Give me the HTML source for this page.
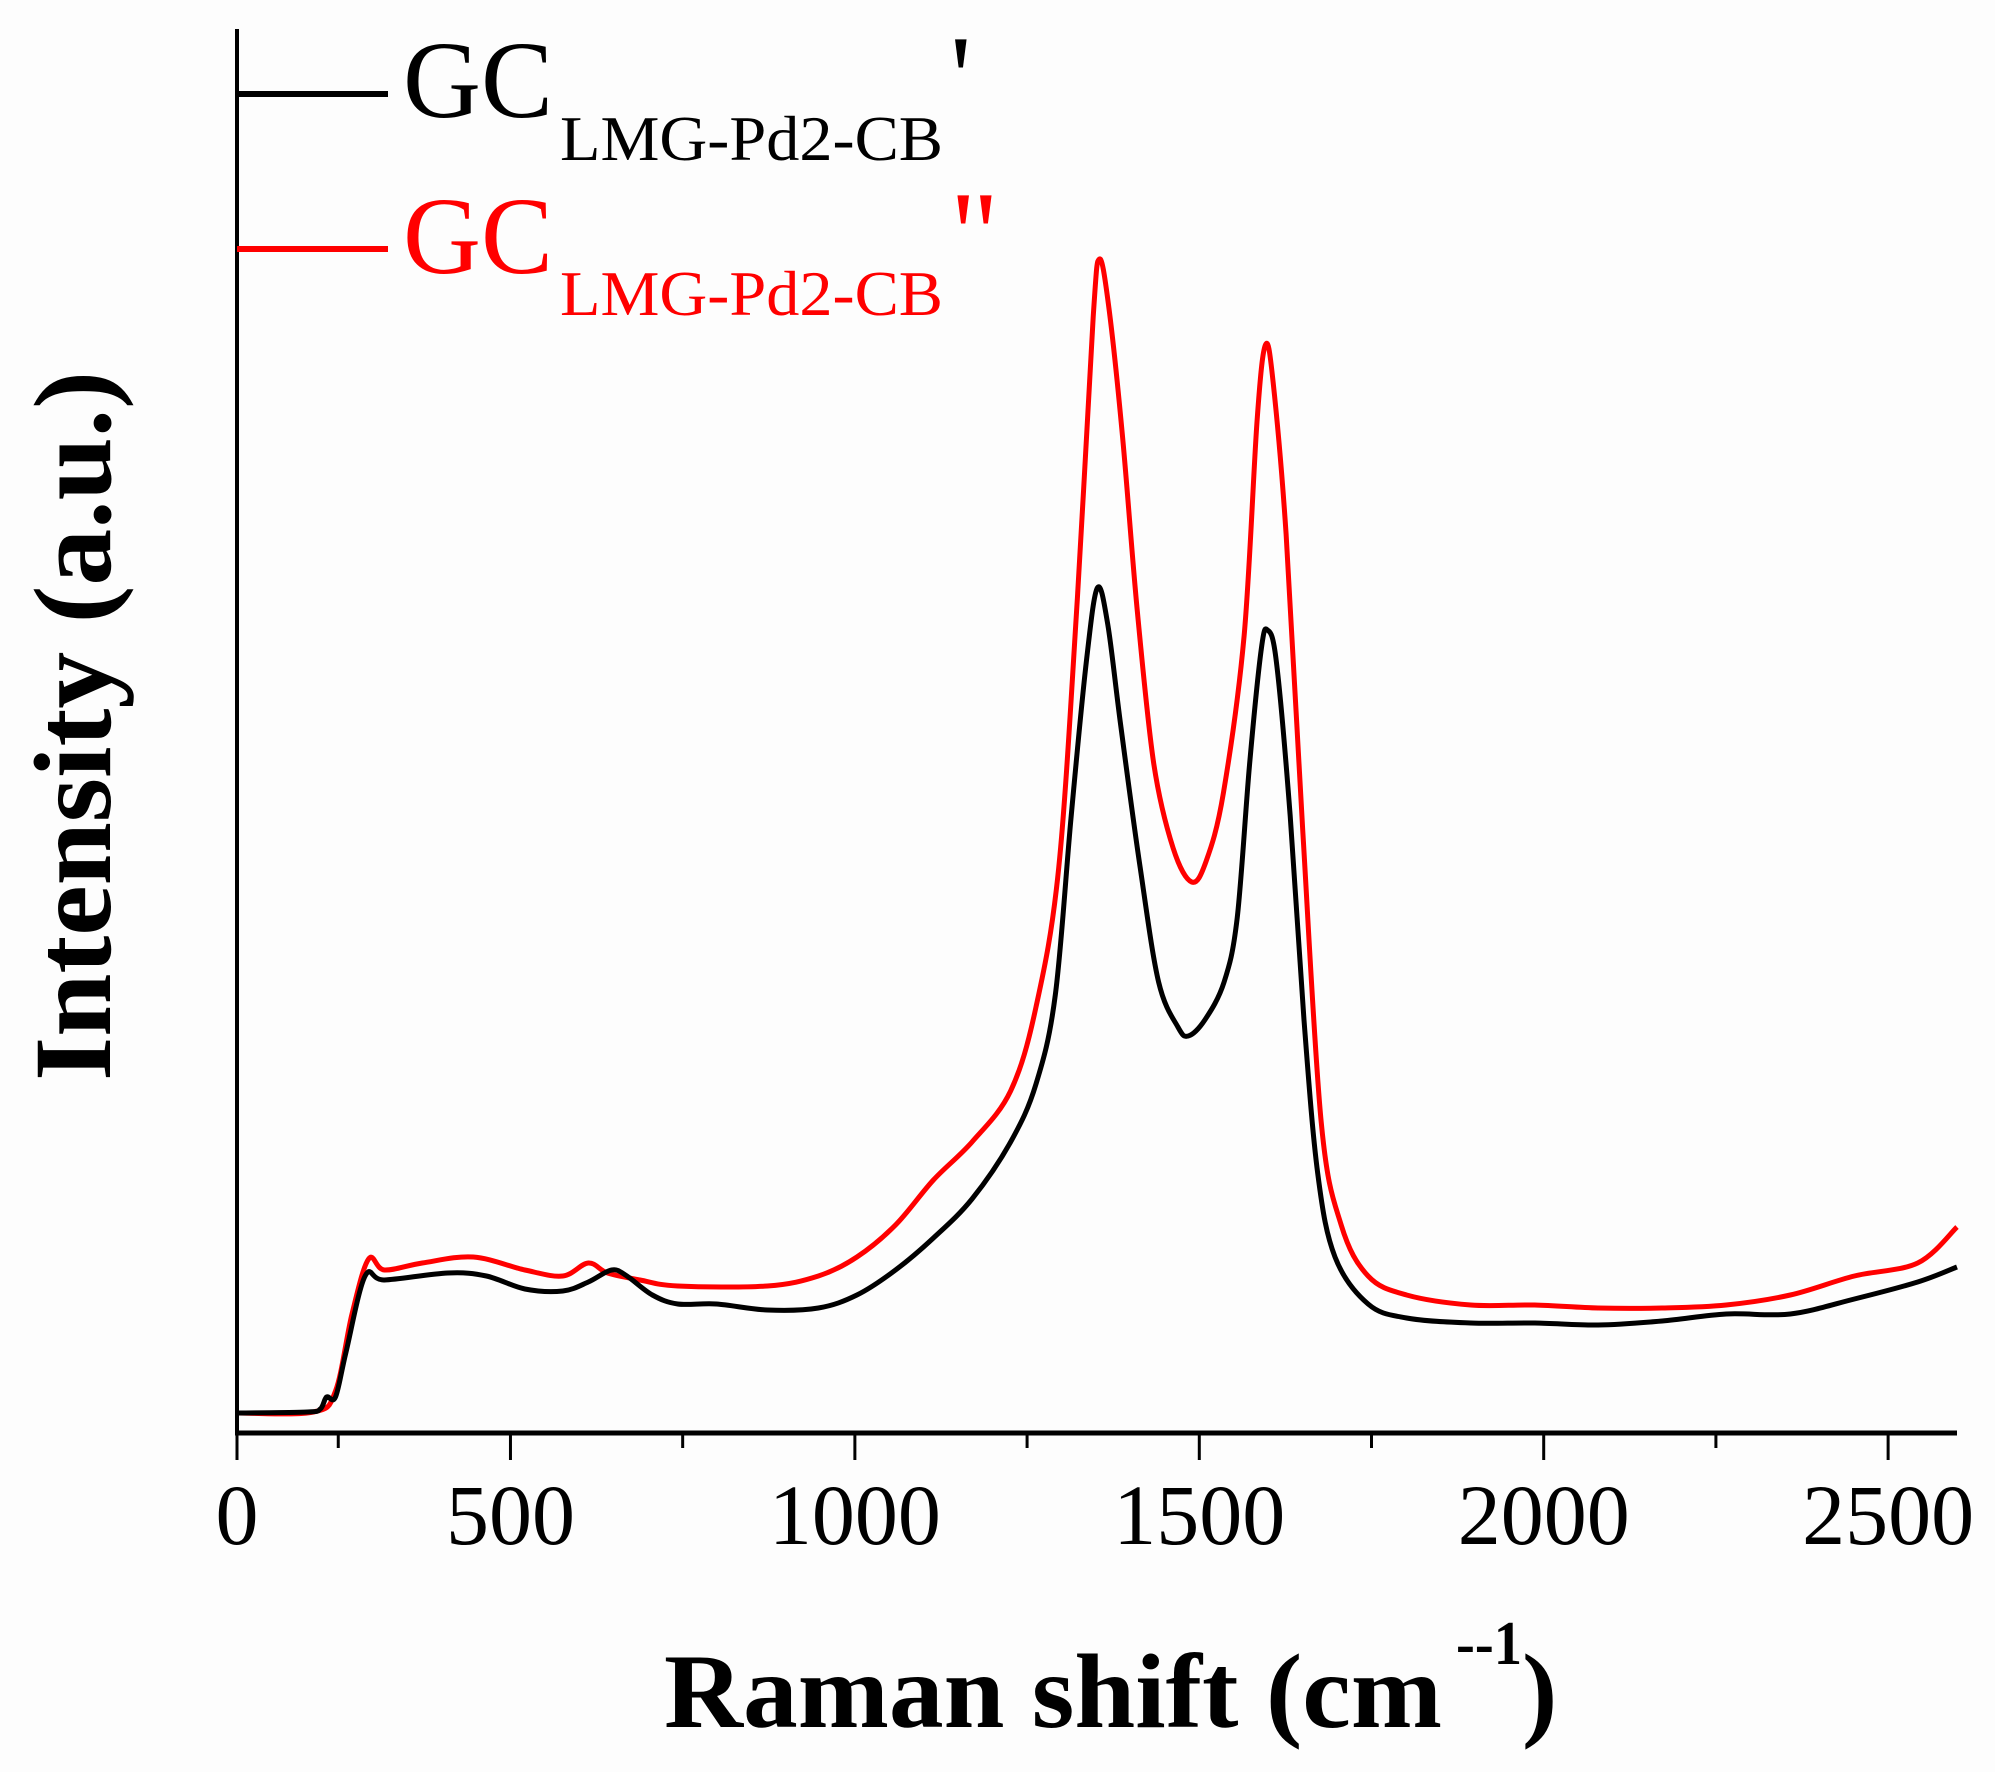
<!DOCTYPE html>
<html><head><meta charset="utf-8"><style>
html,body{margin:0;padding:0;background:#fff;}
svg{display:block;}
text{font-family:"Liberation Serif",serif;}
</style></head><body>
<svg id="chart" width="1995" height="1772" viewBox="0 0 1995 1772" xmlns="http://www.w3.org/2000/svg">
<rect x="0" y="0" width="1995" height="1772" fill="#fdfdfd"/>
<g id="series"></g>
<g id="axes"></g>
<g>
  <g>
    <line x1="237" y1="94" x2="388" y2="94" stroke="#000" stroke-width="6"/>
    <text x="403" y="117" font-size="110" fill="#000" textLength="150" lengthAdjust="spacingAndGlyphs">GC</text>
    <text x="560" y="160" font-size="64" fill="#000" textLength="383" lengthAdjust="spacingAndGlyphs">LMG-Pd2-CB</text>
    <text x="950" y="118" font-size="120" fill="#000">'</text>
  </g>
  <g>
    <line x1="237" y1="249" x2="388" y2="249" stroke="#f00" stroke-width="6"/>
    <text x="403" y="273" font-size="110" fill="#f00" textLength="150" lengthAdjust="spacingAndGlyphs">GC</text>
    <text x="560" y="315" font-size="64" fill="#f00" textLength="383" lengthAdjust="spacingAndGlyphs">LMG-Pd2-CB</text>
    <text x="950" y="274" font-size="120" fill="#f00">"</text>
  </g>
</g>
<text transform="translate(110,726) rotate(-90)" text-anchor="middle" font-size="110" font-weight="bold" textLength="710" lengthAdjust="spacingAndGlyphs">Intensity (a.u.)</text>
<g>
  <text x="664" y="1727" font-size="106" font-weight="bold" textLength="778" lengthAdjust="spacingAndGlyphs">Raman shift (cm</text>
  <text x="1456" y="1664" font-size="62" font-weight="bold" textLength="66" lengthAdjust="spacingAndGlyphs">--1</text>
  <text x="1522" y="1727" font-size="106" font-weight="bold">)</text>
</g>
</svg>
<script>
const categoriesX = [103,205,224,233,246,261,289,317,409,465,521,576,613,647,669,706,743,799,873,947,1003,1059,1114,1170,1226,1263,1291,1314,1336,1352,1367,1386,1414,1441,1469,1484,1508,1536,1555,1573,1590,1599,1612,1632,1652,1672,1697,1745,1801,1894,1987,2079,2172,2265,2358,2451,2543,2600];
const seriesBlack = [20,21,24,36,36,80,157,153,160,157,144,142,151,163,157,138,129,129,123,125,138,163,195,234,291,349,438,617,771,845,809,707,566,451,406,397,413,451,515,669,784,803,771,617,413,259,176,129,115,110,110,108,112,119,119,134,151,166];
const categoriesXRed = [103,214,246,270,294,317,372,446,521,576,613,641,688,743,873,947,1003,1059,1114,1170,1226,1263,1296,1323,1346,1355,1368,1388,1410,1434,1462,1489,1510,1535,1565,1584,1596,1607,1626,1650,1677,1706,1745,1801,1894,1987,2079,2172,2265,2358,2451,2543,2600];
const seriesRed = [20,21,42,119,174,163,170,176,163,157,170,160,153,147,147,157,176,208,253,291,342,426,566,835,1116,1174,1129,1001,822,669,585,551,572,640,797,1014,1088,1052,899,605,311,208,157,138,128,128,125,125,128,138,157,170,206];
const tickValues = [250,500,750,1000,1250,1500,1750,2000,2250,2500];
const tickLabels = ["0","500","1000","1500","2000","2500"];
const tickLabelValues = [103,500,1000,1500,2000,2500];

const NS = "http://www.w3.org/2000/svg";
const X0 = 237, X1 = 1957, XMIN = 103, XMAX = 2600;
const Y0 = 1433, Y1 = 29, YMAX = 1404;
function xScale(v){ return X0 + (v - XMIN) * (X1 - X0) / (XMAX - XMIN); }
function yScale(v){ return Y0 - v * (Y0 - Y1) / YMAX; }

const series = document.getElementById('series');
function drawLine(xs, ys, color, name){
  const P = xs.map(function(x, i){ return [xScale(x), yScale(ys[i])]; });
  let d = 'M' + P[0][0].toFixed(1) + ',' + P[0][1].toFixed(1);
  for (let i = 0; i < P.length - 1; i++){
    const p0 = P[Math.max(0, i-1)], p1 = P[i], p2 = P[i+1], p3 = P[Math.min(P.length-1, i+2)];
    const t = 0.5 / 3;
    const c1x = p1[0] + (p2[0]-p0[0])*t, c1y = p1[1] + (p2[1]-p0[1])*t;
    const c2x = p2[0] - (p3[0]-p1[0])*t, c2y = p2[1] - (p3[1]-p1[1])*t;
    d += 'C' + c1x.toFixed(1) + ',' + c1y.toFixed(1) + ' ' + c2x.toFixed(1) + ',' + c2y.toFixed(1) + ' ' + p2[0].toFixed(1) + ',' + p2[1].toFixed(1);
  }
  const p = document.createElementNS(NS, 'path');
  p.setAttribute('d', d);
  p.setAttribute('fill', 'none');
  p.setAttribute('stroke', color);
  p.setAttribute('stroke-width', '5');
  p.setAttribute('stroke-linejoin', 'round');
  
  
  series.appendChild(p);
}
drawLine(categoriesXRed, seriesRed, '#f00', 'series-red');
drawLine(categoriesX, seriesBlack, '#000', 'series-black');

const axes = document.getElementById('axes');
function mk(tag, attrs){
  const e = document.createElementNS(NS, tag);
  for (const k in attrs) e.setAttribute(k, attrs[k]);
  axes.appendChild(e);
  return e;
}
const yAxis = mk('line', {x1:X0, y1:Y1, x2:X0, y2:Y0+2, stroke:'#000', 'stroke-width':4});


const xAxis = mk('line', {x1:X0-2, y1:Y0, x2:X1, y2:Y0, stroke:'#000', 'stroke-width':5});


const t0 = mk('line', {x1:X0, y1:Y0, x2:X0, y2:Y0+27, stroke:'#000', 'stroke-width':3});


tickValues.forEach(function(v){
  const major = (v % 500 === 0);
  const t = mk('line', {x1:xScale(v), y1:Y0, x2:xScale(v), y2:Y0 + (major ? 27 : 15), stroke:'#000', 'stroke-width':3});
  
  
});
tickLabels.forEach(function(lab, i){
  const t = mk('text', {x:xScale(tickLabelValues[i]), y:1544, 'text-anchor':'middle', 'font-size':86});
  t.textContent = lab;
  
  
});
</script>
</body></html>
